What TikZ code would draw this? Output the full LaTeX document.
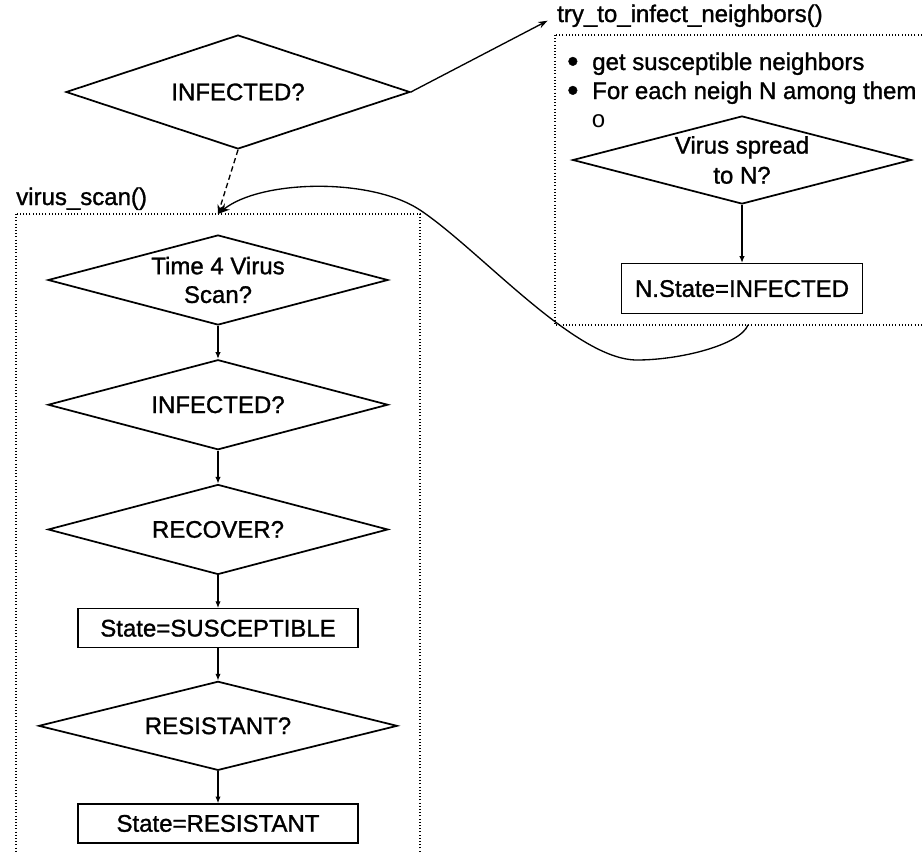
\documentclass[tikz,border=0pt]{standalone}
\usepackage{fontspec}
\setmainfont{Liberation Sans}[FakeBold=1.2]
\newfontfamily\subbulletfont{Liberation Mono}
\usetikzlibrary{arrows.meta,positioning,shapes.geometric}

\begin{document}
\begin{tikzpicture}[x=0.75pt, y=-0.75pt,
  font=\fontsize{18}{21.5}\selectfont, >=Stealth,
  decision/.style={diamond, draw, line width=1.3pt, inner sep=0pt,
    aspect=3.8, minimum width=255pt, minimum height=67.5pt, align=center},
  action/.style={draw, line width=1.1pt, inner sep=0pt,
    minimum width=210pt, minimum height=29.25pt},
  frame/.style={line width=0.8pt, dash pattern=on 0.8pt off 1.6pt},
  flow/.style={line width=0.8pt, -{Latex[length=5pt,width=4pt]}},
  lbl/.style={inner sep=0pt, anchor=base west},
  dot/.style={inner sep=0pt, anchor=base west, font=\fontsize{24}{24}\selectfont},
]
\useasboundingbox (0,0) rectangle (924,853);

%% Entry test
\node[decision, minimum width=258pt, minimum height=85.5pt] (infected) at (238,92) {INFECTED?};

%% try_to_infect_neighbors()
\node[lbl] (trylbl) at (557,22) {try\_to\_infect\_neighbors()};
\draw[frame] (555,35) rectangle (930,325);
\node[dot] (bul1) at (567,72) {\textbullet};
\node[lbl] (get) at (592,70) {get susceptible neighbors};
\node[dot] (bul2) at (567,101) {\textbullet};
\node[lbl] (each) at (592,99) {For each neigh N among them};
\node[lbl] (sub) at (591,127) {\subbulletfont o};
\node[decision, minimum width=254pt, minimum height=66pt] (spread) at (742,160) {Virus spread\\[1pt]to N?};
\node[action, minimum width=181pt, minimum height=37.5pt, below=43.5pt of spread] (setinf) {N.State=INFECTED};
\coordinate (loopout) at (748,325);

%% virus_scan()
\node[lbl] (scanlbl) at (16,205) {virus\_scan()};
\draw[frame] (16,214) rectangle (420,870);
\coordinate (scantop) at (218,214);

\node[decision] (time) at (218,280) {Time 4 Virus\\Scan?};
\node[decision, below=24.75pt of time] (scaninf) {INFECTED?};
\node[decision, below=24.75pt of scaninf] (recover) {RECOVER?};
\node[action, below=24.5pt of recover] (setsus) {State=SUSCEPTIBLE};
\node[decision, minimum width=269pt, minimum height=66.75pt, below=24pt of setsus] (resist) {RESISTANT?};
\node[action, below=24pt of resist] (setres) {State=RESISTANT};

%% Arrows
\draw[flow] (spread) -- (setinf);
\draw[flow] (time) -- (scaninf);
\draw[flow] (scaninf) -- (recover);
\draw[flow] (recover) -- (setsus);
\draw[flow] (setsus) -- (resist);
\draw[flow] (resist) -- (setres);

\draw[line width=1pt, -{Stealth[length=7pt,width=5pt]}, shorten >=8pt]
  (infected.east) -- (trylbl.west);
\draw[line width=1pt, dash pattern=on 4pt off 2.5pt, -{Stealth[length=7pt,width=5pt]}]
  (infected.south) -- (scantop);
\draw[line width=1pt, -{Stealth[length=9pt,width=6pt]}]
  (loopout) .. controls (740,345) and (680,360) .. (637,360)
  .. controls (575,360) and (480,250) .. (420,210)
  .. controls (370,177) and (260,180) .. (scantop);

\end{tikzpicture}
\end{document}
